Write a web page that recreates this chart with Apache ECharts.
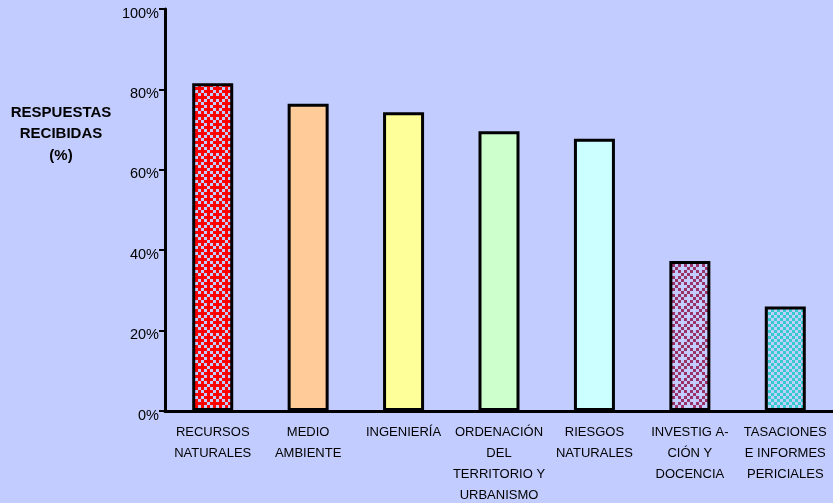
<!DOCTYPE html>
<html>
<head>
<meta charset="utf-8">
<script src="https://cdn.jsdelivr.net/npm/echarts@6/dist/echarts.min.js"></script>
<style>
  html, body { margin: 0; padding: 0; background: #C2CCFF; }
  #chart { width: 833px; height: 503px; }
</style>
</head>
<body>
<div id="chart"></div>
<script>
// Survey areas and share of responses received (%)
const categories = [
  'RECURSOS\nNATURALES',
  'MEDIO\nAMBIENTE',
  'INGENIERÍA',
  'ORDENACIÓN\nDEL\nTERRITORIO Y\nURBANISMO',
  'RIESGOS\nNATURALES',
  'INVESTIG A-\nCIÓN Y\nDOCENCIA',
  'TASACIONES\nE INFORMES\nPERICIALES'
];
const responses = [81.5, 76.4, 74.3, 69.6, 67.7, 37.3, 26.0];
const yTicks = [0, 20, 40, 60, 80, 100];

const BG = '#C2CCFF';

// Small tiled canvas used as a checkered fill; map: 1 = ink, 0 = background
function pattern(ink, map, cell) {
  const n = map.length;
  const c = document.createElement('canvas');
  c.width = n * cell; c.height = n * cell;
  const g = c.getContext('2d');
  g.fillStyle = BG; g.fillRect(0, 0, c.width, c.height);
  g.fillStyle = ink;
  for (let r = 0; r < n; r++) {
    for (let k = 0; k < n; k++) {
      if (map[r][k] === '1') g.fillRect(k * cell, r * cell, cell, cell);
    }
  }
  return { image: c, repeat: 'repeat' };
}

const denseMap = [
  '101110',
  '010101',
  '111011',
  '010101',
  '101110',
  '110101'
];
const checkMap = [
  '1010',
  '0101',
  '1010',
  '0101'
];
const crossMap = [
  '101010',
  '010001',
  '101010',
  '000101',
  '101010',
  '010100'
];

const fills = [
  pattern('#FF0000', denseMap, 3),
  '#FFCC99',
  '#FFFF99',
  '#CCFFCC',
  '#CCFFFF',
  pattern('#993366', crossMap, 3),
  pattern('#33CCCC', checkMap, 3)
];

const FONT = 'Liberation Sans, Arial, sans-serif';

const chart = echarts.init(document.getElementById('chart'));
chart.setOption({
  backgroundColor: BG,
  animation: false,
  title: {
    text: 'RESPUESTAS\nRECIBIDAS\n(%)',
    left: 56,
    top: 97,
    textAlign: 'center',
    textStyle: {
      fontFamily: FONT,
      fontSize: 15,
      fontWeight: 'bold',
      color: '#000',
      lineHeight: 21.5,
      align: 'center'
    }
  },
  grid: { left: 165, right: 0, top: 9, bottom: 92, containLabel: false, outerBoundsMode: 'none' },
  xAxis: {
    type: 'category',
    data: categories,
    axisLine: { lineStyle: { color: '#000', width: 3 } },
    axisTick: { show: false },
    axisLabel: {
      interval: 0,
      margin: 11,
      fontFamily: FONT,
      fontSize: 13,
      color: '#000',
      lineHeight: 21,
      verticalAlign: 'top'
    }
  },
  yAxis: {
    type: 'value',
    min: yTicks[0],
    max: yTicks[yTicks.length - 1],
    interval: yTicks[1] - yTicks[0],
    axisLine: { show: true, lineStyle: { color: '#000', width: 3 } },
    axisTick: { show: true, length: 6, lineStyle: { color: '#000', width: 2 } },
    splitLine: { show: false },
    axisLabel: {
      formatter: '{value}%',
      margin: 6,
      fontFamily: FONT,
      fontSize: 14.5,
      color: '#000',
      verticalAlign: 'top',
      lineHeight: 9
    }
  },
  series: [{
    type: 'bar',
    barWidth: 41,
    data: responses.map((v, i) => ({
      value: v,
      itemStyle: { color: fills[i], borderColor: '#000', borderWidth: 3 }
    }))
  }]
});
</script>
</body>
</html>
